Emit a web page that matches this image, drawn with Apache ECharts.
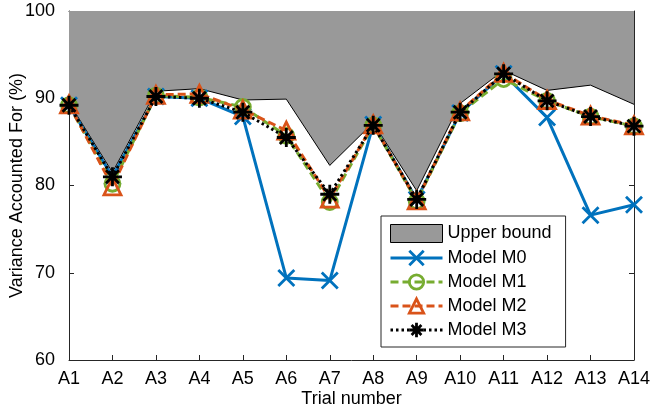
<!DOCTYPE html>
<html>
<head>
<meta charset="utf-8">
<script src="https://cdn.jsdelivr.net/npm/echarts@6/dist/echarts.min.js"></script>
<style>
  html, body { margin: 0; padding: 0; background: #fff; }
  #chart { width: 650px; height: 415px; }
</style>
</head>
<body>
<div id="chart"></div>
<script>
// Trials and variance accounted for (%) per model
const trials = ['A1','A2','A3','A4','A5','A6','A7','A8','A9','A10','A11','A12','A13','A14'];
const upperBound = [89.5, 81.5, 90.8, 91.1, 89.8, 89.9, 82.3, 87.2, 79.4, 89.4, 93.2, 90.9, 91.5, 89.3];
const modelM0 = [89.2, 81.0, 90.2, 90.0, 87.9, 69.4, 69.1, 87.0, 78.4, 88.3, 92.8, 87.8, 76.6, 77.8];
const modelM1 = [89.2, 80.2, 90.3, 90.1, 89.0, 85.7, 78.1, 86.9, 78.2, 88.3, 92.2, 89.7, 87.9, 86.8];
const modelM2 = [89.3, 79.9, 90.4, 90.5, 88.7, 86.3, 78.5, 87.0, 78.3, 88.5, 92.9, 89.8, 88.0, 86.9];
const modelM3 = [89.2, 81.0, 90.2, 90.0, 88.4, 85.5, 79.0, 86.9, 78.4, 88.4, 92.8, 89.7, 87.9, 86.8];
const yTicks = [60, 70, 80, 90, 100];

const FONT = '"Liberation Sans", Arial, Helvetica, sans-serif';
const AXIS = '#262626';
const BLUE = '#0072BD', GREEN = '#77AC30', ORANGE = '#D95319', BLACK = '#000000';

const crossPath = 'path://M0,0L10,10M10,0L0,10';
const starPath = 'path://M0,5L10,5M5,0L5,10M1.6,1.6L8.4,8.4M8.4,1.6L1.6,8.4';

function modelSeries(name, data, color, symbol, size, dash, z) {
  return {
    name: name, type: 'line', data: data, z: z,
    clip: false,
    symbol: symbol, symbolSize: size, showAllSymbol: true,
    lineStyle: { color: color, width: 3, type: dash },
    itemStyle: { color: 'rgba(0,0,0,0)', borderColor: color, borderWidth: 2.8 },
    emphasis: { disabled: true }
  };
}

function legendItem(name, color, dash) {
  return {
    name: name,
    itemStyle: { color: 'rgba(0,0,0,0)', borderColor: color, borderWidth: 2.8 },
    lineStyle: { color: color, width: 3, type: dash }
  };
}

const chart = echarts.init(document.getElementById('chart'), null, { renderer: 'canvas' });
chart.setOption({
  animation: false,
  backgroundColor: '#fff',
  textStyle: { fontFamily: FONT },
  grid: { left: 69, right: 16, top: 11, bottom: 55, containLabel: false, outerBoundsMode: 'none' },
  legend: {
    orient: 'vertical',
    left: 381, top: 216,
    padding: [8, 14, 8, 8],
    itemGap: 6,
    itemWidth: 52, itemHeight: 18,
    backgroundColor: '#fff',
    borderColor: AXIS, borderWidth: 1, borderRadius: 0,
    selectedMode: false,
    textStyle: { fontFamily: FONT, fontSize: 18, color: '#000' },
    data: [
      { name: 'Upper bound', icon: 'rect', itemStyle: { color: '#999999', borderColor: '#000', borderWidth: 1 } },
      legendItem('Model M0', BLUE, 'solid'),
      legendItem('Model M1', GREEN, [8, 4]),
      legendItem('Model M2', ORANGE, [8, 4]),
      legendItem('Model M3', BLACK, [2.5, 3])
    ]
  },
  xAxis: [{
    type: 'category', data: trials, boundaryGap: false, position: 'bottom',
    name: 'Trial number', nameLocation: 'middle', nameGap: 30, nameMoveOverlap: false,
    nameTextStyle: { fontFamily: FONT, fontSize: 18, color: '#000' },
    axisLine: { lineStyle: { color: AXIS, width: 1 } },
    axisTick: { inside: true, length: 5, lineStyle: { color: AXIS } },
    axisLabel: { fontFamily: FONT, fontSize: 18, color: '#000', margin: 10 },
    splitLine: { show: false }
  }, {
    type: 'category', data: trials, boundaryGap: false, position: 'top',
    axisLine: { lineStyle: { color: AXIS, width: 1 } },
    axisTick: { inside: true, length: 5, lineStyle: { color: AXIS } },
    axisLabel: { show: false },
    splitLine: { show: false }
  }],
  yAxis: [{
    type: 'value', min: yTicks[0], max: yTicks[yTicks.length - 1], interval: 10, position: 'left',
    name: 'Variance Accounted For (%)', nameLocation: 'middle', nameGap: 43, nameMoveOverlap: false,
    nameTextStyle: { fontFamily: FONT, fontSize: 18, color: '#000' },
    axisLine: { show: true, lineStyle: { color: AXIS, width: 1 } },
    axisTick: { show: true, inside: true, length: 5, lineStyle: { color: AXIS } },
    axisLabel: { fontFamily: FONT, fontSize: 18, color: '#000', margin: 14 },
    splitLine: { show: false }
  }, {
    type: 'value', min: yTicks[0], max: yTicks[yTicks.length - 1], interval: 10, position: 'right',
    axisLine: { show: true, lineStyle: { color: AXIS, width: 1 } },
    axisTick: { show: true, inside: true, length: 5, lineStyle: { color: AXIS } },
    axisLabel: { show: false },
    splitLine: { show: false }
  }],
  series: [
    {
      name: 'Upper bound', type: 'line', data: upperBound, z: 1,
      symbol: 'none',
      lineStyle: { color: '#000', width: 1 },
      itemStyle: { color: '#999999' },
      areaStyle: { color: '#999999', opacity: 1, origin: 'end' },
      emphasis: { disabled: true }
    },
    modelSeries('Model M0', modelM0, BLUE, crossPath, 16, 'solid', 2),
    modelSeries('Model M1', modelM1, GREEN, 'circle', 15, [8, 4], 3),
    modelSeries('Model M2', modelM2, ORANGE, 'triangle', 17, [8, 4], 4),
    modelSeries('Model M3', modelM3, BLACK, starPath, 19, [2.5, 3], 5)
  ]
});
</script>
</body>
</html>
